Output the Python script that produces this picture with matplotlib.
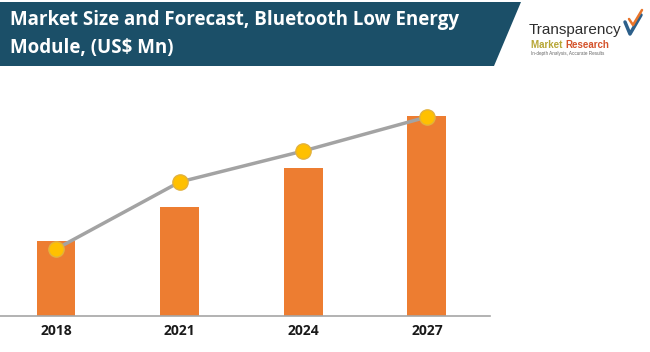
import matplotlib.pyplot as plt
from matplotlib.patches import Polygon
import numpy as np

plt.rcParams['font.family'] = ['Open Sans', 'DejaVu Sans']

# 数据（从图中估读，单位随意，柱和折线共用同一刻度）
years = ['2018', '2021', '2024', '2027']
bar_values = [75, 109, 148, 200]
line_values = [67, 134, 165, 199]

BAR_COLOR = '#ED7D31'
LINE_COLOR = '#A3A3A3'
MARKER_COLOR = '#FFC000'
BANNER_COLOR = '#1B4F68'

W, H = 650, 352


def fx(px):
    return px / W


def fy(py):
    return 1 - py / H


fig = plt.figure(figsize=(6.5, 3.52), dpi=100)

# ---- 标题横幅 ----
banner = Polygon([[0, fy(2)], [fx(521), fy(2)], [fx(494), fy(66)], [0, fy(66)]],
                 closed=True, transform=fig.transFigure,
                 facecolor=BANNER_COLOR, edgecolor='none')
fig.patches.append(banner)
fig.text(fx(10), fy(20), 'Market Size and Forecast, Bluetooth Low Energy',
         color='white', fontsize=13.5, fontweight='bold', va='center', ha='left')
fig.text(fx(10), fy(48), 'Module, (US$ Mn)',
         color='white', fontsize=13.5, fontweight='bold', va='center', ha='left')

# ---- logo ----
logo_font = ['Liberation Sans', 'DejaVu Sans']
fig.text(fx(529), fy(34), 'Transparency', color='#2E2E2E', fontsize=11,
         va='baseline', ha='left', family=logo_font)
t_market = fig.text(fx(531), fy(48), 'Market ', color='#B7A635', fontsize=7,
                    fontweight='bold', va='baseline', ha='left', family=logo_font)
fig.canvas.draw()
bb = t_market.get_window_extent()
fig.text(bb.x1 / fig.bbox.width, fy(48), 'Research', color='#D4522A', fontsize=7,
         fontweight='bold', va='baseline', ha='left', family=logo_font)
fig.text(fx(531), fy(55), 'In-depth Analysis, Accurate Results', color='#666666',
         fontsize=3.3, va='baseline', ha='left', family=logo_font)
# 简单的对勾图形
fig.lines.append(plt.Line2D([fx(625), fx(630), fx(641)], [fy(22), fy(34), fy(15)],
                            transform=fig.transFigure, color='#2C5F8A', linewidth=2.5,
                            solid_capstyle='round', solid_joinstyle='round'))
fig.lines.append(plt.Line2D([fx(629), fx(633), fx(642)], [fy(19), fy(25), fy(10)],
                            transform=fig.transFigure, color='#E8742A', linewidth=1.8,
                            solid_capstyle='round', solid_joinstyle='round'))

# ---- 图表 ----
ax = fig.add_axes([0, 36 / H, 490 / W, 236 / H])
x = np.arange(len(years))
ax.bar(x, bar_values, width=0.315, color=BAR_COLOR, zorder=2)
ax.plot(x, line_values, color=LINE_COLOR, linewidth=2.5, zorder=3,
        marker='o', markersize=11, markerfacecolor=MARKER_COLOR,
        markeredgecolor='#E3B23C', markeredgewidth=1)

ax.set_xlim(-0.453, 3.51)
ax.set_ylim(0, 236)
ax.set_xticks(x)
ax.set_xticklabels(years, fontsize=10, fontweight='bold', color='#1A1A1A')
ax.tick_params(axis='x', length=0, pad=6)
ax.set_yticks([])
for side in ['top', 'right', 'left']:
    ax.spines[side].set_visible(False)
ax.spines['bottom'].set_color('#A6A6A6')
ax.spines['bottom'].set_linewidth(1.2)
ax.patch.set_alpha(0)

fig.savefig('out.png', dpi=100)
